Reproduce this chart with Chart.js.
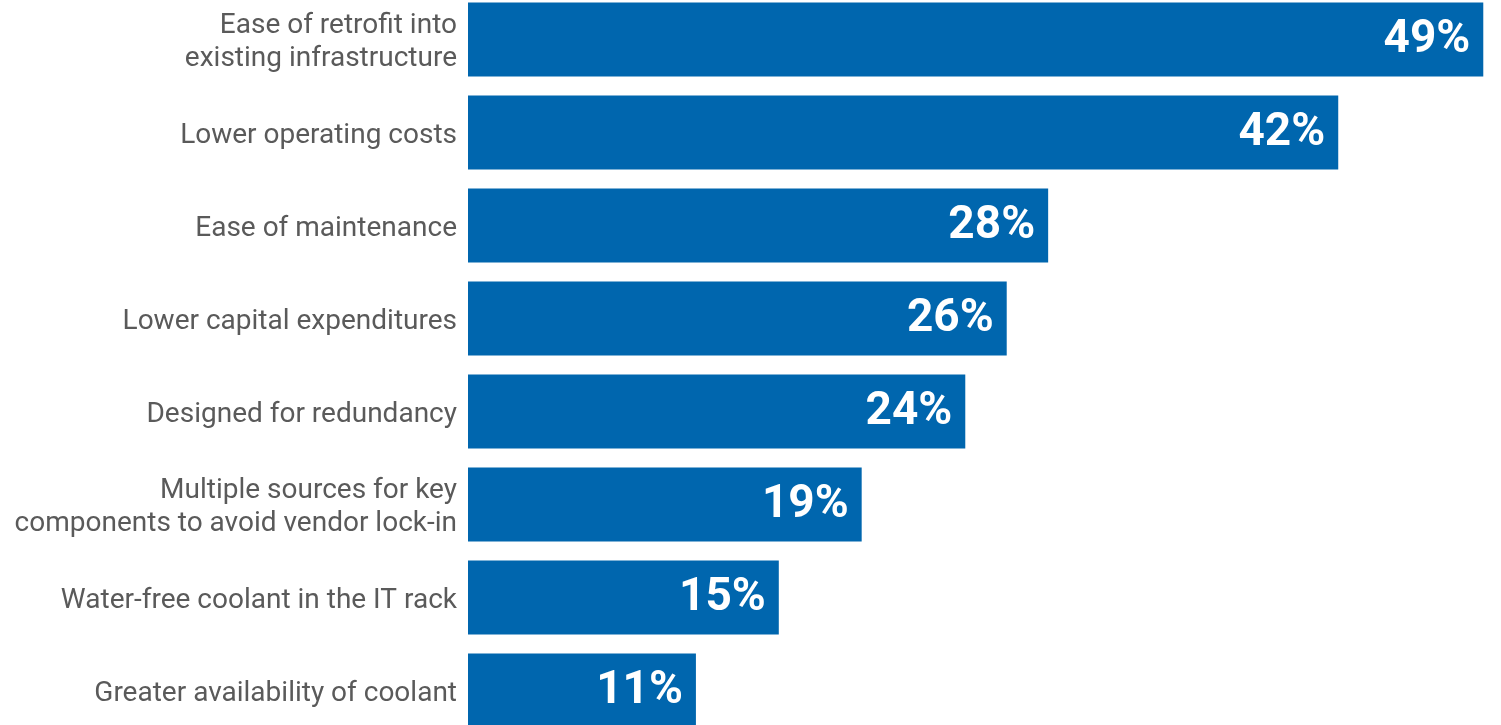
<!DOCTYPE html>
<html>
<head>
<meta charset="utf-8">
<script src="https://cdn.jsdelivr.net/npm/chart.js@4/dist/chart.umd.min.js"></script>
<style>
  html, body { margin: 0; padding: 0; background: #ffffff; overflow: hidden; width: 1501px; height: 725px; }
  #wrap { position: absolute; left: 0; top: -7px; width: 1504px; height: 744px; }
</style>
</head>
<body>
<div id="wrap"><canvas id="c"></canvas></div>
<script>
const categories = [
  ["Ease of retrofit into", "existing infrastructure"],
  "Lower operating costs",
  "Ease of maintenance",
  "Lower capital expenditures",
  "Designed for redundancy",
  ["Multiple sources for key", "components to avoid vendor lock-in"],
  "Water-free coolant in the IT rack",
  "Greater availability of coolant"
];
const values = [49, 42, 28, 26, 24, 19, 15, 11];
const valueLabels = ["49%", "42%", "28%", "26%", "24%", "19%", "15%", "11%"];

const barLabelPlugin = {
  id: 'barLabels',
  afterDatasetsDraw(chart) {
    const ctx = chart.ctx;
    const meta = chart.getDatasetMeta(0);
    ctx.save();
    ctx.fillStyle = '#ffffff';
    ctx.font = 'bold 46px Roboto, "DejaVu Sans", sans-serif';
    ctx.textAlign = 'right';
    ctx.textBaseline = 'middle';
    meta.data.forEach((bar, i) => {
      ctx.fillText(valueLabels[i], bar.x - 13, bar.y + 1);
    });
    ctx.restore();
  }
};

new Chart(document.getElementById('c'), {
  type: 'bar',
  data: {
    labels: categories,
    datasets: [{
      data: values,
      backgroundColor: '#0066ae',
      borderWidth: 0,
      categoryPercentage: 1.0,
      barPercentage: 0.796
    }]
  },
  options: {
    indexAxis: 'y',
    responsive: true,
    maintainAspectRatio: false,
    animation: false,
    layout: { padding: 0 },
    plugins: { legend: { display: false }, tooltip: { enabled: false } },
    scales: {
      x: { display: false, min: 0, max: 50 },
      y: {
        grid: { display: false, drawTicks: false },
        border: { display: false },
        ticks: {
          color: '#5a5a5a',
          font: { family: 'Roboto, "DejaVu Sans", sans-serif', size: 28, lineHeight: 1.21 },
          padding: 11,
          labelOffset: 3
        },
        afterFit(scale) {
          scale.width = 468;
          scale.paddingTop = 0;
          scale.paddingBottom = 0;
        }
      }
    }
  },
  plugins: [barLabelPlugin]
});
</script>
</body>
</html>
